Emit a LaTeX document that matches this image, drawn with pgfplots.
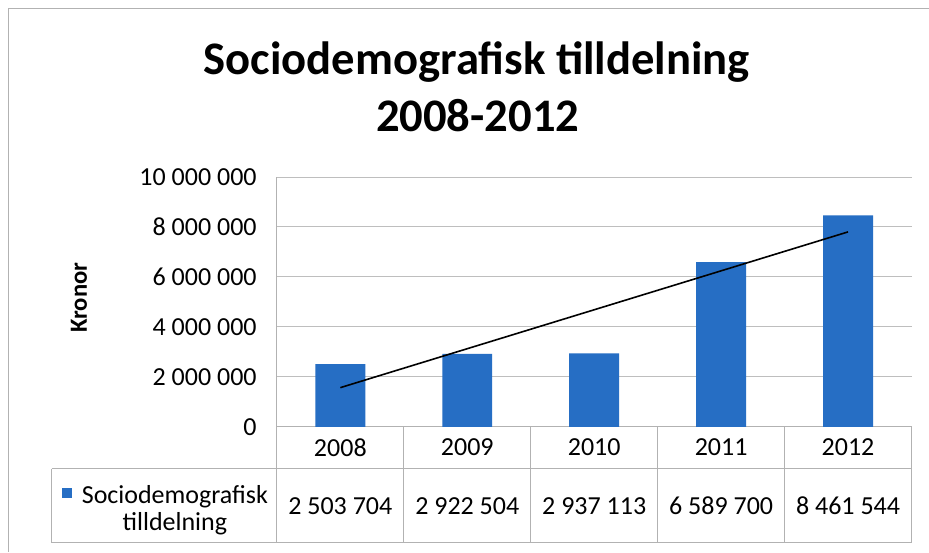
\documentclass[border=0pt]{standalone}
\usepackage{fontspec}
\setmainfont{Carlito}
\usepackage{pgfplots}
\usepackage{pgfplotstable}
\pgfplotsset{compat=1.18}
\definecolor{barblue}{RGB}{38,110,196}
\definecolor{rulegray}{RGB}{178,178,178}
\definecolor{gridgray}{RGB}{190,190,190}

\pgfplotstableread{
x  year  value
0  2008  2503704
1  2009  2922504
2  2010  2937113
3  2011  6589700
4  2012  8461544
}\datatable

% linear trend line (least squares), end points
\pgfplotstableread{
x  trend
0  1566338
4  7799488
}\trendtable

\newcommand{\tickfont}{\fontsize{19.5}{20.5}\selectfont}

\begin{document}
\begin{tikzpicture}[px/.style={x=0.75pt,y=-0.75pt}]
  \begin{scope}[px]
    \fill[white] (0,0) rectangle (929,552);
    \draw[rulegray, line width=0.75pt] (9,552) -- (9,9) -- (929,9);
    \node[anchor=base, font=\bfseries\fontsize{35}{42}\selectfont, inner sep=0pt] at (477,75) {Sociodemografisk tilldelning};
    \node[anchor=base, font=\bfseries\fontsize{35}{42}\selectfont, inner sep=0pt] at (478,132) {2008-2012};
    \node[rotate=90, font=\bfseries\fontsize{18.5}{20}\selectfont, inner sep=0pt] at (79,298) {Kronor};
  \end{scope}

  \begin{axis}[
    at={(207.75pt,-320.25pt)}, anchor=south west,
    scale only axis, width=476.25pt, height=187.5pt,
    xmin=-0.5, xmax=4.5, ymin=0, ymax=10000000,
    scaled y ticks=false,
    axis lines*=left,
    axis line style={rulegray, line width=0.75pt},
    ymajorgrids, grid style={gridgray, line width=0.6pt},
    major tick length=0pt,
    xtick={0,1,2,3,4},
    xticklabels={2008,2009,2010,2011,2012},
    ytick={0,2000000,4000000,6000000,8000000,10000000},
    yticklabels={0,2 000 000,4 000 000,6 000 000,8 000 000,10 000 000},
    ticklabel style={font=\tickfont},
    xticklabel style={anchor=center, yshift=-15.4pt},
    yticklabel style={anchor=east, inner sep=0pt, xshift=-15pt},
    clip=false,
  ]
    \addplot[ybar, bar width=37.5pt, fill=barblue, draw=none]
      table[x=x, y=value] {\datatable};
    \addplot[black, line width=1.2pt, mark=none]
      table[x=x, y=trend] {\trendtable};

    \node[font=\tickfont] at (axis cs:0,-3160000) {2 503 704};
    \node[font=\tickfont] at (axis cs:1,-3160000) {2 922 504};
    \node[font=\tickfont] at (axis cs:2,-3160000) {2 937 113};
    \node[font=\tickfont] at (axis cs:3,-3160000) {6 589 700};
    \node[font=\tickfont] at (axis cs:4,-3160000) {8 461 544};
  \end{axis}

  \begin{scope}[px]
    % data table grid
    \begin{scope}[draw=rulegray, line width=0.75pt]
      \draw (52,469) -- (912,469);
      \draw (52,543) -- (912,543);
      \draw (52,469) -- (52,543);
      \foreach \xx in {277,404,531,658,785,912} {\draw (\xx,427) -- (\xx,543);}
    \end{scope}
    % legend key
    \fill[barblue] (62,488) rectangle (72,498);
    \node[align=center, font=\tickfont, text=black, inner sep=0pt, anchor=base] at (175,531)
      {Sociodemografisk\\tilldelning};
  \end{scope}
\end{tikzpicture}
\end{document}
